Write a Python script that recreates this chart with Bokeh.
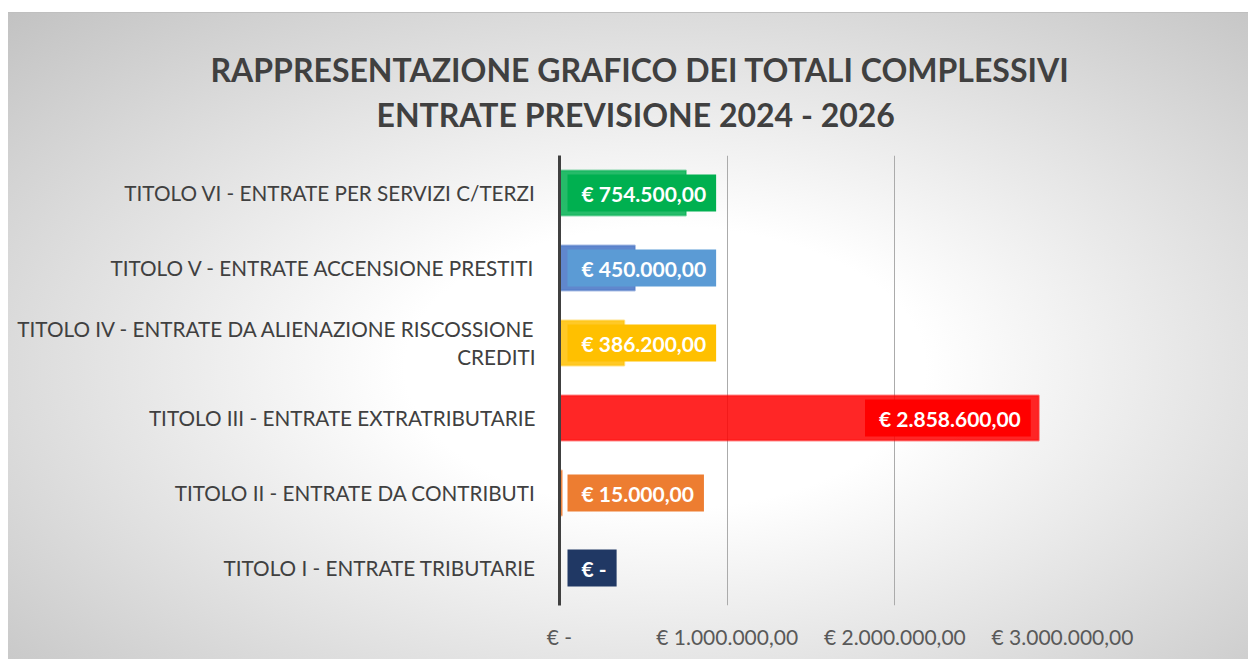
from bokeh.plotting import figure
from bokeh.models import ColumnDataSource, FactorRange, Range1d, Title, FixedTicker
from bokeh.core.properties import value
from bokeh.embed import file_html
from bokeh.resources import INLINE

# ---------------- data ----------------
categories = [
    "TITOLO I - ENTRATE TRIBUTARIE",
    "TITOLO II - ENTRATE DA CONTRIBUTI",
    "TITOLO III - ENTRATE EXTRATRIBUTARIE",
    "TITOLO IV - ENTRATE DA ALIENAZIONE RISCOSSIONE\nCREDITI",
    "TITOLO V - ENTRATE ACCENSIONE PRESTITI",
    "TITOLO VI - ENTRATE PER SERVIZI C/TERZI",
]
values = [0, 15000, 2858600, 386200, 450000, 754500]
bar_colors = ["#203864", "#ED7D31", "#FF0000", "#FFC000", "#4472C4", "#00B050"]
label_colors = ["#203864", "#ED7D31", "#FF0000", "#FFC000", "#5B9BD5", "#00B050"]
label_inside_end = [False, False, True, False, False, False]
x_ticks = [0, 1000000, 2000000, 3000000]
x_tick_labels = ["€ -", "€ 1.000.000,00", "€ 2.000.000,00", "€ 3.000.000,00"]
title_lines = [
    "RAPPRESENTAZIONE GRAFICO DEI TOTALI COMPLESSIVI",
    "ENTRATE PREVISIONE 2024 - 2026",
]


def eur(v):
    if v == 0:
        return "€ -"
    s = f"{v:,.2f}".replace(",", "X").replace(".", ",").replace("X", ".")
    return "€ " + s


FONT = "Lato"

p = figure(
    width=1240, height=647,
    y_range=FactorRange(*categories, range_padding=0),
    x_range=Range1d(0, 3000000),
    output_backend="svg", toolbar_location=None,
    min_border_left=551, min_border_right=186,
    min_border_top=143, min_border_bottom=54,
)
p.styles = {
    "margin": "12px 0 0 8px",
    "background": "linear-gradient(#bfbfbf, #bfbfbf) top / 100% 1px no-repeat, "
                  "radial-gradient(ellipse farthest-corner at 53% 55%, #ffffff 0%, #ffffff 28%, #c2c2c2 100%)",
}
p.background_fill_alpha = 0
p.border_fill_alpha = 0
p.outline_line_color = None

bars = ColumnDataSource(dict(cat=categories, val=values, bc=bar_colors))
p.hbar(y="cat", left=0, right="val", height=0.6, source=bars,
       fill_color="bc", fill_alpha=0.85, line_color="bc", line_alpha=0.45, line_width=2)

base_idx = [i for i in range(len(values)) if not label_inside_end[i]]
end_idx = [i for i in range(len(values)) if label_inside_end[i]]
src_base = ColumnDataSource(dict(
    cat=[categories[i] for i in base_idx],
    x=[0 for i in base_idx],
    lab=[eur(values[i]) for i in base_idx],
    lc=[label_colors[i] for i in base_idx],
))
src_end = ColumnDataSource(dict(
    cat=[categories[i] for i in end_idx],
    x=[values[i] for i in end_idx],
    lab=[eur(values[i]) for i in end_idx],
    lc=[label_colors[i] for i in end_idx],
))
pad = dict(left=14, right=10, top=6, bottom=6)
p.text(x="x", y="cat", text="lab", source=src_base, x_offset=8,
       text_align="left", text_baseline="middle", text_color="white",
       text_font=value(FONT), text_font_style="bold", text_font_size="21px",
       background_fill_color="lc", padding=pad)
p.text(x="x", y="cat", text="lab", source=src_end, x_offset=-8,
       text_align="right", text_baseline="middle", text_color="white",
       text_font=value(FONT), text_font_style="bold", text_font_size="21px",
       background_fill_color="lc", padding=pad)

# axes
p.xaxis.ticker = FixedTicker(ticks=x_ticks)
p.xaxis.major_label_overrides = {t: l for t, l in zip(x_ticks, x_tick_labels)}
p.xaxis.axis_line_color = None
p.xaxis.major_tick_line_color = None
p.xaxis.minor_tick_line_color = None
p.xaxis.major_label_text_color = "#595959"
p.xaxis.major_label_text_font = FONT
p.xaxis.major_label_text_font_size = "21px"
p.xaxis.major_label_standoff = 12

p.yaxis.axis_line_color = "#404040"
p.yaxis.axis_line_width = 3
p.yaxis.major_tick_line_color = None
p.yaxis.minor_tick_line_color = None
p.yaxis.major_label_text_color = "#404040"
p.yaxis.major_label_text_font = FONT
p.yaxis.major_label_text_font_size = "20.7px"
p.yaxis.major_label_standoff = 18

p.xgrid.ticker = FixedTicker(ticks=x_ticks[1:])
p.xgrid.grid_line_color = "#ABABAB"
p.ygrid.grid_line_color = None

# title (closest line added first)
p.add_layout(Title(text=title_lines[1], align="left", offset=-183, standoff=44,
                   text_font=FONT, text_font_style="bold", text_font_size="32px",
                   text_color="#404040"), "above")
p.add_layout(Title(text=title_lines[0], align="left", offset=-349, standoff=-36,
                   text_font=FONT, text_font_style="bold", text_font_size="32px",
                   text_color="#404040"), "above")

open("out.html", "w").write(file_html(p, INLINE))
